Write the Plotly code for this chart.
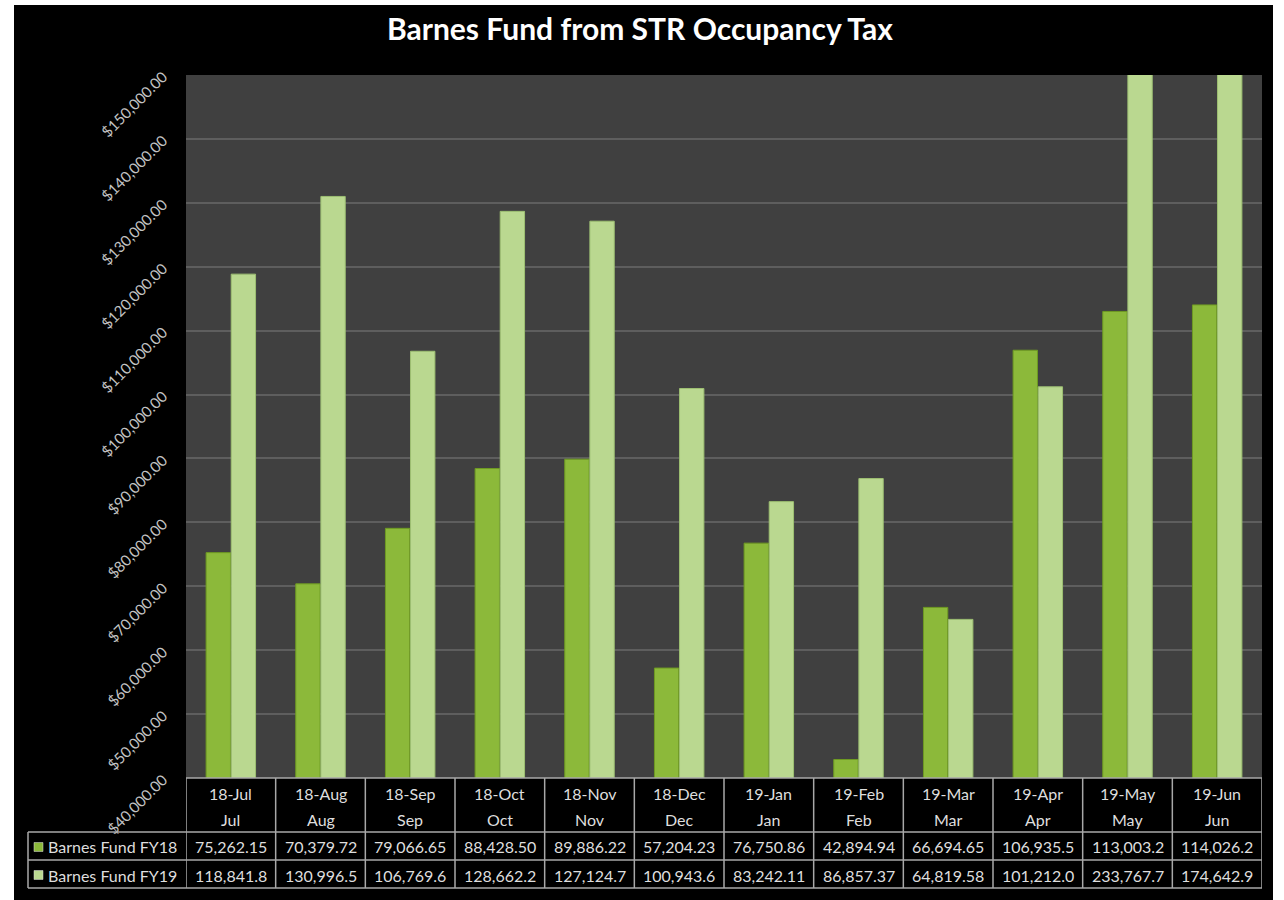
import plotly.graph_objects as go

# ---- data ----
periods = ["18-Jul", "18-Aug", "18-Sep", "18-Oct", "18-Nov", "18-Dec",
           "19-Jan", "19-Feb", "19-Mar", "19-Apr", "19-May", "19-Jun"]
months = ["Jul", "Aug", "Sep", "Oct", "Nov", "Dec",
          "Jan", "Feb", "Mar", "Apr", "May", "Jun"]
fy18 = [75262.15, 70379.72, 79066.65, 88428.50, 89886.22, 57204.23,
        76750.86, 42894.94, 66694.65, 106935.5, 113003.2, 114026.2]
fy19 = [118841.8, 130996.5, 106769.6, 128662.2, 127124.7, 100943.6,
        83242.11, 86857.37, 64819.58, 101212.0, 233767.7, 174642.9]
series_names = ["Barnes Fund FY18", "Barnes Fund FY19"]
y_min, y_max, y_step = 40000, 150000, 10000

# ---- style / layout ----
W, H = 1284, 900
L, R, T, B = 186, 1262, 75, 778
col18 = "#8cb93a"
col19 = "#bad890"
line18 = "#6e9a22"
line19 = "#9dbf72"
grid = "#5e5e5e"
plotbg = "#404040"
txt = "#dedede"
border = "#a8a8a8"
FONT = "Lato"

def px_x(px):
    return (px - L) / (R - L)

def px_y(py):
    return (B - py) / (B - T)

x = list(range(len(periods)))

fig = go.Figure()
fig.add_trace(go.Bar(x=x, y=fy18, name=series_names[0],
                     marker=dict(color=col18, line=dict(color=line18, width=1))))
fig.add_trace(go.Bar(x=x, y=fy19, name=series_names[1],
                     marker=dict(color=col19, line=dict(color=line19, width=1))))

shapes = []
# black frame background and plot area
shapes.append(dict(type="rect", xref="paper", yref="paper", layer="below",
                   x0=px_x(14), x1=px_x(1273), y0=px_y(900), y1=px_y(5),
                   fillcolor="black", line=dict(width=0)))
shapes.append(dict(type="rect", xref="paper", yref="paper", layer="below",
                   x0=0, x1=1, y0=0, y1=1, fillcolor=plotbg, line=dict(width=0)))

# data table
y_head_top, y_head_bot, y_r1_bot, y_r2_bot = 778, 832, 860, 888
tbl_left = 28
n = len(periods)
shapes.append(dict(type="line", xref="paper", yref="paper",
                   x0=0, x1=1, y0=px_y(y_head_top), y1=px_y(y_head_top),
                   line=dict(color=border, width=1.5)))
for yy in (y_head_bot, y_r1_bot, y_r2_bot):
    shapes.append(dict(type="line", xref="paper", yref="paper",
                       x0=px_x(tbl_left), x1=1, y0=px_y(yy), y1=px_y(yy),
                       line=dict(color=border, width=1.5)))
shapes.append(dict(type="line", xref="paper", yref="paper",
                   x0=px_x(tbl_left), x1=px_x(tbl_left),
                   y0=px_y(y_head_bot), y1=px_y(y_r2_bot),
                   line=dict(color=border, width=1.5)))
for i in range(n + 1):
    shapes.append(dict(type="line", xref="x", yref="paper",
                       x0=i - 0.5, x1=i - 0.5,
                       y0=px_y(y_head_top), y1=px_y(y_r2_bot),
                       line=dict(color=border, width=1.5)))

def fmt(v):
    if v >= 100000:
        return f"{v:,.1f}"
    return f"{v:,.2f}"

ann = []
tf = dict(family=FONT, size=16, color=txt)
def cell(xv, yv, text, xref="x", xanchor="center"):
    return dict(x=xv, y=px_y(yv), xref=xref, yref="paper", text=text,
                xanchor=xanchor, yanchor="middle", showarrow=False, font=tf)

for i in range(n):
    ann.append(cell(i, 793, periods[i]))
    ann.append(cell(i, 820, months[i]))
    ann.append(cell(i, 847, fmt(fy18[i])))
    ann.append(cell(i, 875, fmt(fy19[i])))

for k, (nm, c) in enumerate(zip(series_names, [col18, col19])):
    yc = 847 if k == 0 else 875
    shapes.append(dict(type="rect", xref="paper", yref="paper",
                       x0=px_x(34), x1=px_x(43), y0=px_y(yc + 4.5), y1=px_y(yc - 4.5),
                       fillcolor=c, line=dict(color="#dddddd", width=0.5)))
    ann.append(cell(px_x(46), yc, nm, xref="paper", xanchor="left"))

ann.append(dict(x=px_x(640), y=px_y(28), xref="paper", yref="paper",
                xanchor="center", yanchor="middle",
                text="<b>Barnes Fund from STR Occupancy Tax</b>", showarrow=False,
                font=dict(family=FONT, size=30, color="white")))

fig.update_layout(
    width=W, height=H,
    margin=dict(l=L, r=W - R, t=T, b=H - B, pad=0),
    paper_bgcolor="white",
    plot_bgcolor="rgba(0,0,0,0)",
    barmode="group", bargap=0.44, bargroupgap=0.03,
    showlegend=False,
    shapes=shapes, annotations=ann,
    font=dict(family=FONT),
    xaxis=dict(range=[-0.5, n - 0.5], showticklabels=False, showgrid=False,
               zeroline=False, showline=False, ticks=""),
    yaxis=dict(range=[y_min, y_max], dtick=y_step, tick0=y_min,
               tickformat="$,.2f", tickangle=-45,
               tickfont=dict(family=FONT, size=15, color="#c4c4c4"),
               gridcolor=grid, gridwidth=1.5, zeroline=False, showline=False,
               ticks="", ticklabelstandoff=22),
)

fig.write_html("out.html")
